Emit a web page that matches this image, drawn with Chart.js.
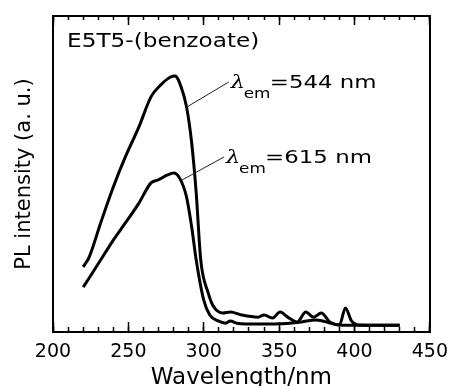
<!DOCTYPE html>
<html>
<head>
<meta charset="utf-8">
<script src="https://cdn.jsdelivr.net/npm/chart.js@4.4.0/dist/chart.umd.min.js"></script>
<style>
  html, body { margin: 0; padding: 0; background: #fff; }
  #wrap { width: 467px; height: 386px; }
</style>
</head>
<body>
<div id="wrap"><canvas id="plChart"></canvas></div>
<script>
// excitation spectra (nm, a.u.)
const wl544 = [220, 224, 231.6, 240, 248, 257, 265, 271.5, 278, 281, 285, 288.6, 292, 295, 298, 303, 306, 312.7, 317.7, 325, 336, 340, 345.6, 350.6, 355.7, 362, 367.7, 372.8, 378, 383.5, 390, 400, 430];
const pl544 = [20.6, 23.7, 34.5, 45.9, 55.4, 64.9, 74.4, 78.2, 80.7, 81.0, 77.5, 71.2, 59.8, 44.0, 22.8, 12.3, 8.5, 6.0, 6.3, 5.4, 4.7, 5.4, 4.4, 6.3, 4.7, 3.2, 6.3, 4.7, 6.0, 3.2, 2.2, 2.1, 2.1];

const wl615 = [220, 224, 231.6, 240, 248, 257, 265, 269.6, 276, 280, 284, 288.6, 292, 295, 300, 304, 309.5, 314.6, 317.7, 322, 336, 357, 365, 374, 379, 384, 390, 394, 398, 403, 430];
const pl615 = [14.2, 17.1, 22.8, 29.1, 34.5, 40.8, 47.2, 48.1, 49.7, 50.3, 48.7, 42.7, 33.2, 22.8, 10.1, 5.4, 3.5, 2.8, 3.5, 2.8, 2.5, 2.8, 3.2, 3.8, 3.5, 2.8, 2.2, 7.6, 3.5, 2.2, 2.1];

const xMin = 200, xMax = 450;
const majorStep = 50, minorStep = 10;
const sampleName = 'E5T5-(benzoate)';
const emWavelengths = ['544', '615'];

// leader lines: from a point on the curve to the label (data units)
const leaders = [
  { from: [288.8, 71.2], to: [316.6, 79.1] },
  { from: [285.6, 48.1], to: [313.5, 55.4] }
];

const FONT = '"DejaVu Sans", sans-serif';

function drawText(ctx, text, x, y, font, sx) {
  ctx.save();
  ctx.translate(x, y);
  ctx.scale(sx, 1);
  ctx.font = font;
  ctx.textBaseline = 'alphabetic';
  ctx.textAlign = 'left';
  ctx.fillText(text, 0, 0);
  ctx.restore();
}

const labelPlugin = {
  id: 'labelPlugin',
  afterDatasetsDraw(chart) {
    const { ctx, chartArea: a, scales } = chart;
    const x = scales.x, y = scales.y;
    ctx.save();
    ctx.fillStyle = '#000';
    ctx.strokeStyle = '#222';
    ctx.lineWidth = 1;

    drawText(ctx, sampleName, a.left + 14, a.top + 31, '19px ' + FONT, 1.22);

    leaders.forEach((l, i) => {
      const x1 = x.getPixelForValue(l.from[0]), y1 = y.getPixelForValue(l.from[1]);
      const x2 = x.getPixelForValue(l.to[0]), y2 = y.getPixelForValue(l.to[1]);
      ctx.beginPath();
      ctx.moveTo(x1, y1);
      ctx.lineTo(x2, y2);
      ctx.stroke();

      const lx = x2 + 2, ly = y2 + 6;
      drawText(ctx, 'λ', lx, ly, 'italic 18px "DejaVu Serif", serif', 1.25);
      drawText(ctx, 'em', lx + 13, ly + 10, '14px ' + FONT, 1.2);
      drawText(ctx, '=' + emWavelengths[i] + ' nm', lx + 39, ly, '18px ' + FONT, 1.27);
    });
    ctx.restore();
  }
};

const axisBase = {
  type: 'linear',
  min: xMin,
  max: xMax,
  border: { display: false },
  ticks: { display: false }
};

new Chart(document.getElementById('plChart'), {
  type: 'line',
  data: {
    datasets: [
      {
        label: 'λem=544 nm',
        data: wl544.map((w, i) => ({ x: w, y: pl544[i] })),
        borderColor: '#000',
        borderWidth: 3,
        pointRadius: 0,
        cubicInterpolationMode: 'monotone',
        xAxisID: 'x',
        yAxisID: 'y'
      },
      {
        label: 'λem=615 nm',
        data: wl615.map((w, i) => ({ x: w, y: pl615[i] })),
        borderColor: '#000',
        borderWidth: 3,
        pointRadius: 0,
        cubicInterpolationMode: 'monotone',
        xAxisID: 'x',
        yAxisID: 'y'
      }
    ]
  },
  options: {
    responsive: true,
    maintainAspectRatio: false,
    animation: false,
    layout: { padding: { top: 16, right: 20, left: 0, bottom: 0 } },
    plugins: { legend: { display: false }, tooltip: { enabled: false } },
    scales: {
      x: {
        type: 'linear',
        position: 'bottom',
        min: xMin,
        max: xMax,
        weight: 1,
        ticks: {
          stepSize: majorStep,
          padding: 19,
          color: '#000',
          maxRotation: 0,
          autoSkip: false,
          font: { family: FONT, size: 19 }
        },
        grid: { drawOnChartArea: false, tickLength: -10, tickWidth: 1.5, tickColor: '#000' },
        border: { display: true, color: '#000', width: 2 },
        title: {
          display: true,
          text: 'Wavelength/nm',
          color: '#000',
          font: { family: FONT, size: 23, lineHeight: 0.7 },
          padding: 0
        },
        afterFit: s => { s.height = 54; }
      },
      xMinor: Object.assign({}, axisBase, {
        position: 'bottom',
        weight: 0,
        ticks: { display: false, stepSize: minorStep },
        grid: { drawOnChartArea: false, tickLength: -5, tickWidth: 1.5, tickColor: '#000' },
        afterFit: s => { s.height = 0; }
      }),
      xTop: Object.assign({}, axisBase, {
        position: 'top',
        weight: 1,
        ticks: { display: false, stepSize: majorStep },
        grid: { drawOnChartArea: false, tickLength: -9, tickWidth: 1.5, tickColor: '#000' },
        border: { display: true, color: '#000', width: 2 },
        afterFit: s => { s.height = 0; }
      }),
      xTopMinor: Object.assign({}, axisBase, {
        position: 'top',
        weight: 0,
        ticks: { display: false, stepSize: minorStep },
        grid: { drawOnChartArea: false, tickLength: -4, tickWidth: 1.5, tickColor: '#000' },
        afterFit: s => { s.height = 0; }
      }),
      y: {
        type: 'linear',
        position: 'left',
        min: 0,
        max: 100,
        ticks: { display: false },
        grid: { display: false },
        border: { display: true, color: '#000', width: 2 },
        title: {
          display: true,
          text: 'PL intensity (a. u.)',
          color: '#000',
          font: { family: FONT, size: 21 },
          padding: { top: 12, bottom: 0 }
        },
        afterFit: s => { s.width = 53; }
      },
      yRight: {
        type: 'linear',
        position: 'right',
        min: 0,
        max: 100,
        ticks: { display: false },
        grid: { display: false },
        border: { display: true, color: '#000', width: 2 },
        afterFit: s => { s.width = 0; }
      }
    }
  },
  plugins: [labelPlugin]
});
</script>
</body>
</html>
